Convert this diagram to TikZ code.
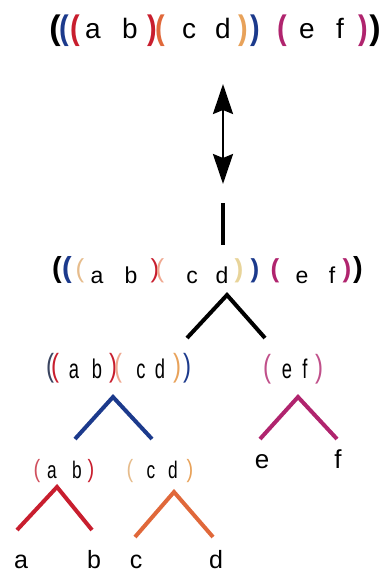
\documentclass[tikz,border=0pt]{standalone}
\usepackage{fontspec}
\setmainfont{Liberation Sans}
\usetikzlibrary{arrows.meta}
\definecolor{navy}{HTML}{1C3A8C}
\definecolor{cred}{HTML}{C81E2E}
\definecolor{corange}{HTML}{E0683A}
\definecolor{ctan}{HTML}{E8A25A}
\definecolor{cmag}{HTML}{B0246E}
\definecolor{lightred}{HTML}{D0505E}
\definecolor{paletan}{HTML}{E6BC8C}
\definecolor{paleora}{HTML}{EFA890}
\definecolor{paleyel}{HTML}{E8D49A}
\definecolor{palemag}{HTML}{C0508A}
\definecolor{darkpar}{HTML}{3A4460}
\begin{document}
\begin{tikzpicture}[x=1pt,y=-1pt,
  ltr/.style={anchor=base, inner sep=0pt, font=\fontsize{#1}{#1}\selectfont},
  par/.style={anchor=center, inner sep=0pt, font=\fontsize{#1}{#1}\selectfont\bfseries},
  thinpar/.style={anchor=center, inner sep=0pt, font=\fontsize{#1}{#1}\selectfont},
  narrow/.style={transform shape, xscale=#1},
  caret/.style={line width=4pt, line join=miter, line cap=butt},
  dblarrow/.style={line width=2.5pt,
    arrows={Stealth[length=30pt,width=20pt,inset=4pt]-Stealth[length=30pt,width=20pt,inset=4pt]}}]
\useasboundingbox (0,0) rectangle (385,578);

% ---- top line ----
\node[par=34, text=black]   (t1)  at (55,31)  {(};
\node[par=34, narrow=.85, text=navy]    (t2)  at (64,31)  {(};
\node[par=34, narrow=.85, text=cred]    (t3)  at (75,31)  {(};
\node[ltr=28]               (t4)  at (93,38)  {a};
\node[ltr=28]               (t5)  at (130,38) {b};
\node[par=34, narrow=.85, text=cred]    (t6)  at (152,31) {)};
\node[par=34, narrow=.85, text=corange] (t7)  at (160,31) {(};
\node[ltr=28]               (t8)  at (189,38) {c};
\node[ltr=28]               (t9)  at (223,38) {d};
\node[par=34, narrow=.85, text=ctan]    (t10) at (243,31) {)};
\node[par=34, narrow=.85, text=navy]    (t11) at (255,31) {)};
\node[par=34, narrow=.85, text=cmag]    (t12) at (282,31) {(};
\node[ltr=28]               (t13) at (307,38) {e};
\node[ltr=28]               (t14) at (340,38) {f};
\node[par=34, narrow=.85, text=cmag]    (t15) at (363,31) {)};
\node[par=34, text=black]   (t16) at (375,31) {)};

% ---- double arrow and bar ----
\coordinate (arT) at (223,84);
\coordinate (arB) at (223,184);
\draw[dblarrow] (arT) -- (arB);
\coordinate (barT) at (223,203);
\coordinate (barB) at (223,245);
\draw[line width=4.5pt] (barT) -- (barB);

% ---- second line ----
\node[par=29, text=black]   (s1)  at (57,270)  {(};
\node[par=29, text=navy]    (s2)  at (67,270)  {(};
\node[thinpar=26, text=paletan] (s3) at (80,271) {(};
\node[ltr=23]               (s4)  at (97,283)  {a};
\node[ltr=23]               (s5)  at (131,283) {b};
\node[thinpar=26, text=cred]    (s6)  at (155,271) {)};
\node[thinpar=26, text=paleora] (s7)  at (160,271) {(};
\node[ltr=23]               (s8)  at (192,283) {c};
\node[ltr=23]               (s9)  at (222,283) {d};
\node[par=26, text=paleyel] (s10) at (239,271) {)};
\node[par=26, text=navy]    (s11) at (255,271) {)};
\node[par=26, text=cmag]    (s12) at (275,271) {(};
\node[ltr=23]               (s13) at (302,283) {e};
\node[ltr=23]               (s14) at (332,283) {f};
\node[par=26, text=cmag]    (s15) at (347,271) {)};
\node[par=29, text=black]   (s16) at (358,270) {)};

% black caret
\coordinate (k0) at (227,295);
\coordinate (k1) at (187,338);
\coordinate (k2) at (265,338);
\draw[caret, black] (k1) -- (k0) -- (k2);

% ---- level 3 ----
\node[thinpar=32, narrow=.75, text=darkpar] (u1)  at (50,368)  {(};
\node[thinpar=32, narrow=.75, text=cred]    (u2)  at (55,368)  {(};
\node[ltr=27, narrow=.68]                   (u3)  at (74,378)  {a};
\node[ltr=27, narrow=.68]                   (u4)  at (97,378)  {b};
\node[thinpar=32, narrow=.75, text=cred]    (u5)  at (113,368) {)};
\node[thinpar=32, narrow=.75, text=paleora] (u6)  at (118,368) {(};
\node[ltr=27, narrow=.68]                   (u7)  at (141,378) {c};
\node[ltr=27, narrow=.68]                   (u8)  at (160,378) {d};
\node[thinpar=32, narrow=.75, text=ctan]    (u9)  at (177,368) {)};
\node[thinpar=32, narrow=.75, text=navy]    (u10) at (187,368) {)};

\node[thinpar=32, narrow=.75, text=palemag] (v1) at (267,369) {(};
\node[ltr=27, narrow=.68]                   (v2) at (287,378) {e};
\node[ltr=27, narrow=.68]                   (v3) at (305,378) {f};
\node[thinpar=32, narrow=.75, text=palemag] (v4) at (319,369) {)};

% blue and magenta carets
\coordinate (b0) at (113,397);
\coordinate (b1) at (75,439);
\coordinate (b2) at (152,439);
\draw[caret, navy] (b1) -- (b0) -- (b2);
\coordinate (m0) at (298,397);
\coordinate (m1) at (260,439);
\coordinate (m2) at (337,439);
\draw[caret, cmag] (m1) -- (m0) -- (m2);

% ---- level 4 ----
\node[thinpar=25, narrow=.8, text=lightred] (w1) at (37,471)  {(};
\node[ltr=24, narrow=.72]                   (w2) at (52,478)  {a};
\node[ltr=24, narrow=.72]                   (w3) at (77,478)  {b};
\node[thinpar=25, narrow=.8, text=cred]     (w4) at (91,471)  {)};
\node[thinpar=25, narrow=.8, text=paletan]  (w5) at (130,471) {(};
\node[ltr=24, narrow=.72]                   (w6) at (151,478) {c};
\node[ltr=24, narrow=.72]                   (w7) at (173,478) {d};
\node[thinpar=25, narrow=.8, text=ctan]     (w8) at (190,471) {)};
\node[ltr=26]                               (w9) at (262,468) {e};
\node[ltr=26]                               (w10) at (338,468) {f};

% red and orange carets
\coordinate (r0) at (57,487);
\coordinate (r1) at (17,530);
\coordinate (r2) at (92,530);
\draw[caret, cred] (r1) -- (r0) -- (r2);
\coordinate (o0) at (174,492);
\coordinate (o1) at (135,537);
\coordinate (o2) at (213,537);
\draw[caret, corange] (o1) -- (o0) -- (o2);

% ---- bottom leaves ----
\node[ltr=25] (x1) at (21,568)  {a};
\node[ltr=25] (x2) at (94,568)  {b};
\node[ltr=25] (x3) at (136,568) {c};
\node[ltr=25] (x4) at (216,568) {d};
\end{tikzpicture}
\end{document}
